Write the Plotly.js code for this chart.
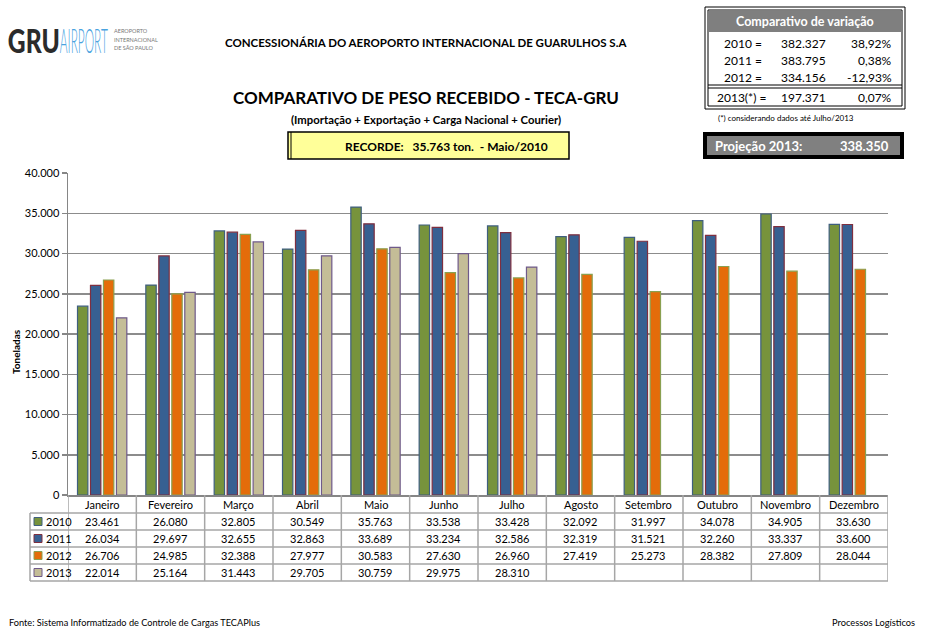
<!DOCTYPE html>
<html><head><meta charset="utf-8">
<script src="https://cdn.plot.ly/plotly-3.0.1.min.js"></script>
<style>body{margin:0;background:#fff}#chart{width:926px;height:638px}</style>
</head><body><div id="chart"></div>
<script>
const months = ['Janeiro','Fevereiro','Março','Abril','Maio','Junho','Julho','Agosto','Setembro','Outubro','Novembro','Dezembro'];
const years = ['2010','2011','2012','2013'];
const v2010 = [23461,26080,32805,30549,35763,33538,33428,32092,31997,34078,34905,33630];
const v2011 = [26034,29697,32655,32863,33689,33234,32586,32319,31521,32260,33337,33600];
const v2012 = [26706,24985,32388,27977,30583,27630,26960,27419,25273,28382,27809,28044];
const v2013 = [22014,25164,31443,29705,30759,29975,28310,null,null,null,null,null];
const totalLabels = ['2010 =','2011 =','2012 =','2013(*) ='];
const totals = ['382.327','383.795','334.156','197.371'];
const variation = ['38,92%','0,38%','-12,93%','0,07%'];
const projection = '338.350';
const record = 'RECORDE:   35.763 ton.  - Maio/2010';

const series = [v2010, v2011, v2012, v2013];
const fill = ['#77933C','#376092','#E46C0A','#C4BD97'];
const edge = ['#3F5F7F','#7F2F3F','#8AA050','#6F5A8A'];

const FONT = 'Lato, Carlito, Calibri, sans-serif';
const L = 68, R = 38, T = 173, B = 143, W = 926, H = 638;
const PW = W - L - R, PH = H - T - B;
const PX = x => (x - L) / PW;
const PY = y => (H - B - y) / PH;
const fmt = n => String(n).replace(/\B(?=(\d{3})+(?!\d))/g, '.');
const xs = months.map((m, i) => i);

const traces = series.map((vals, k) => ({
  type: 'bar', name: years[k], x: xs, y: vals,
  marker: {color: fill[k], line: {color: edge[k], width: 1.2}},
  hoverinfo: 'skip'
}));

const shapes = [];
const ann = [];
function A(o) {
  ann.push(Object.assign({xref:'paper', yref:'paper', xanchor:'center', yanchor:'middle', showarrow:false}, o));
  return ann.length - 1;
}
const gridc = '#A6A6A6';
[513, 530, 547, 564, 581].forEach(y => shapes.push({type:'line', xref:'paper', yref:'paper', x0:PX(30), x1:1, y0:PY(y), y1:PY(y), line:{color:gridc, width:1.5}}));
for (let k = 0; k <= 12; k++) shapes.push({type:'line', xref:'x', yref:'paper', x0:k-0.5, x1:k-0.5, y0:PY(495), y1:PY(581), line:{color:gridc, width:1.5}});
shapes.push({type:'line', xref:'paper', yref:'paper', x0:PX(30), x1:PX(30), y0:PY(513), y1:PY(581), line:{color:gridc, width:1.5}});
months.forEach((m, i) => A({xref:'x', x:i, y:PY(504.5), text:m, font:{family:FONT, size:11, color:'#000'}}));
series.forEach((vals, k) => {
  const yc = 521.5 + 17 * k;
  shapes.push({type:'rect', xref:'paper', yref:'paper', x0:PX(34), x1:PX(42), y0:PY(yc - 4), y1:PY(yc + 4), fillcolor:fill[k], line:{color:edge[k], width:1}});
  A({x:PX(44), y:PY(yc), xanchor:'left', text:years[k], font:{family:FONT, size:11, color:'#000'}});
  vals.forEach((v, i) => { if (v !== null) A({xref:'x', x:i, y:PY(yc), text:fmt(v), font:{family:FONT, size:11, color:'#000'}}); });
});
A({x:PX(16), y:PY(352), text:'<b>Toneladas</b>', textangle:-90, font:{family:FONT, size:10, color:'#000'}});

A({x:PX(426), y:PY(42), text:'<b>CONCESSIONÁRIA DO AEROPORTO INTERNACIONAL DE GUARULHOS S.A</b>', font:{family:FONT, size:11.5, color:'#000'}});
A({x:PX(426), y:PY(98), text:'<b>COMPARATIVO DE PESO RECEBIDO - TECA-GRU</b>', font:{family:FONT, size:17, color:'#000'}});
A({x:PX(426), y:PY(119), text:'<b>(Importação + Exportação + Carga Nacional + Courier)</b>', font:{family:FONT, size:11.3, color:'#000'}});

shapes.push({type:'rect', xref:'paper', yref:'paper', x0:PX(288), x1:PX(569), y0:PY(132), y1:PY(159), fillcolor:'#FFFF99', line:{color:'#000', width:1.5}});
shapes.push({type:'line', xref:'paper', yref:'paper', x0:PX(291), x1:PX(291), y0:PY(132), y1:PY(159), line:{color:'#000', width:1}});
A({x:PX(446), y:PY(146), text:'<b>' + record.replace(/ /g, '&nbsp;') + '</b>', font:{family:FONT, size:12, color:'#000'}});

const iGRU = A({x:PX(34), y:PY(40), text:'GRU', font:{family:FONT, size:33, weight:900, color:'#2b2b2b'}});
const iAIR = A({x:PX(84), y:PY(40), text:'AIRPORT', font:{family:FONT, size:33, weight:300, color:'#4AA3DF'}});
A({x:PX(112), y:PY(31), xanchor:'left', text:'AEROPORTO', font:{family:FONT, size:5.5, color:'#777'}});
A({x:PX(112), y:PY(39.5), xanchor:'left', text:'INTERNACIONAL', font:{family:FONT, size:5.5, color:'#777'}});
A({x:PX(112), y:PY(48), xanchor:'left', text:'DE SÃO PAULO', font:{family:FONT, size:5.5, color:'#777'}});

shapes.push({type:'rect', xref:'paper', yref:'paper', x0:PX(705), x1:PX(905), y0:PY(7), y1:PY(109), line:{color:'#000', width:1}});
shapes.push({type:'rect', xref:'paper', yref:'paper', x0:PX(708), x1:PX(902), y0:PY(10), y1:PY(106), line:{color:'#000', width:1}});
shapes.push({type:'rect', xref:'paper', yref:'paper', x0:PX(708.5), x1:PX(901.5), y0:PY(10.5), y1:PY(32), fillcolor:'#7F7F7F', line:{width:0}});
shapes.push({type:'line', xref:'paper', yref:'paper', x0:PX(708), x1:PX(902), y0:PY(85), y1:PY(85), line:{color:'#000', width:1}});
shapes.push({type:'line', xref:'paper', yref:'paper', x0:PX(708), x1:PX(902), y0:PY(88), y1:PY(88), line:{color:'#000', width:1}});
A({x:PX(805), y:PY(21.5), text:'<b>Comparativo de variação</b>', font:{family:FONT, size:12.5, color:'#fff'}});
const rowY = [43, 60, 77, 97];
totalLabels.forEach((t, k) => {
  A({x:PX(k === 3 ? 741 : 743), y:PY(rowY[k]), text:t, font:{family:FONT, size:12, color:'#000'}});
  A({x:PX(803), y:PY(rowY[k]), text:totals[k], font:{family:FONT, size:12, color:'#000'}});
  A({x:PX(894), y:PY(rowY[k]), xanchor:'right', text:variation[k], font:{family:FONT, size:12, color:'#000'}});
});
A({x:PX(716), y:PY(118), xanchor:'left', text:'(*) considerando dados até Julho/2013', font:{family:FONT, size:8, color:'#000'}});

shapes.push({type:'rect', xref:'paper', yref:'paper', x0:PX(705), x1:PX(902), y0:PY(134), y1:PY(157), fillcolor:'#808080', line:{color:'#000', width:4}});
A({x:PX(713), y:PY(145.5), xanchor:'left', text:'<b>Projeção 2013:</b>', font:{family:FONT, size:13, color:'#fff'}});
A({x:PX(891), y:PY(145.5), xanchor:'right', text:'<b>' + projection + '</b>', font:{family:FONT, size:13, color:'#fff'}});

A({x:PX(7), y:PY(622), xanchor:'left', text:'Fonte: Sistema Informatizado de Controle de Cargas TECAPlus', font:{family:FONT, size:9.2, color:'#000'}});
A({x:PX(917), y:PY(622), xanchor:'right', text:'Processos Logísticos', font:{family:FONT, size:9.3, color:'#000'}});

const layout = {
  width: W, height: H,
  margin: {l: L, r: R, t: T, b: B, pad: 0},
  paper_bgcolor: '#fff', plot_bgcolor: '#fff',
  separators: ',.',
  showlegend: false,
  barmode: 'group', bargap: 0.24, bargroupgap: 0.2,
  font: {family: FONT, size: 11, color: '#000'},
  xaxis: {range: [-0.5, 11.5], showticklabels: false, showgrid: false, zeroline: false, showline: true, linecolor: '#868686', linewidth: 1.5, ticks: '', fixedrange: true},
  yaxis: {range: [0, 40000], dtick: 5000, tickformat: ',d', showgrid: true, gridcolor: '#8C8C8C', gridwidth: 1.5, zeroline: false,
          showline: true, linecolor: '#868686', linewidth: 1.5, ticks: 'outside', ticklen: 5, tickcolor: '#868686', tickwidth: 1.5,
          tickfont: {family: FONT, size: 11, color: '#000'}, fixedrange: true},
  shapes: shapes, annotations: ann
};
Plotly.newPlot('chart', traces, layout, {displayModeBar: false, staticPlot: true}).then(gd => {
  const squeeze = (idx, len) => {
    const g = gd.querySelector('.annotation[data-index="' + idx + '"]');
    if (!g) return;
    const t = g.querySelector('text.annotation-text');
    const bg = g.querySelector('rect.bg');
    if (!t) return;
    const bb = t.getBBox();
    const sx = len / bb.width;
    const c = bb.x + bb.width / 2;
    t.setAttribute('transform', 'translate(' + c + ',0) scale(' + sx + ',1) translate(' + (-c) + ',0)');
    if (bg) {
      const w = parseFloat(bg.getAttribute('width'));
      const x = parseFloat(bg.getAttribute('x') || 0);
      const bc = x + w / 2;
      bg.setAttribute('transform', 'translate(' + bc + ',0) scale(' + sx + ',1) translate(' + (-bc) + ',0)');
    }
  };
  squeeze(iGRU, 52);
  squeeze(iAIR, 48);
});
</script></body></html>
